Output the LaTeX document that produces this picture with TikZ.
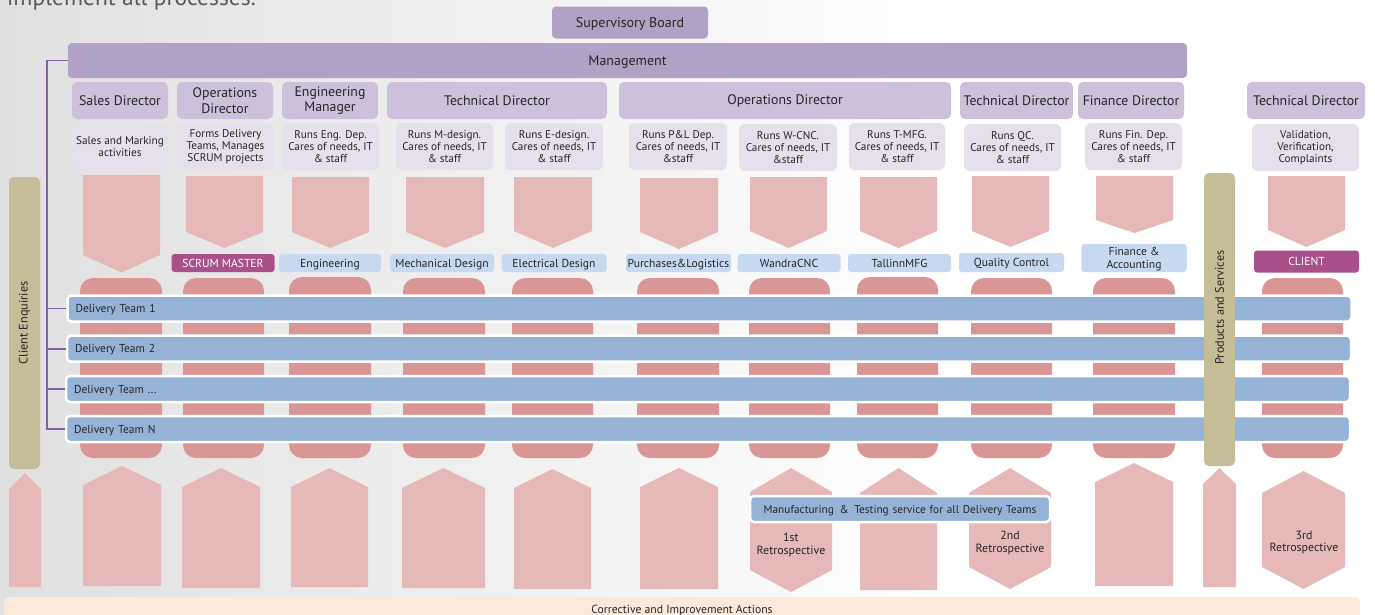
\documentclass[tikz,border=0pt]{standalone}
\usepackage{fontspec}
\setmainfont{PT Sans}
\usepackage{tikz}
\usetikzlibrary{positioning,calc}
\usepackage{xcolor}

\definecolor{bossc}{HTML}{B2A1C7}
\definecolor{headc}{HTML}{CCC0DA}
\definecolor{taskc}{HTML}{E5E0EC}
\definecolor{deptc}{HTML}{C6D9F1}
\definecolor{rolec}{HTML}{A94F8A}
\definecolor{teamc}{HTML}{95B3D7}
\definecolor{flankc}{HTML}{C4BD97}
\definecolor{pentc}{HTML}{E6B8B7}
\definecolor{bandc}{HTML}{DA9694}
\definecolor{actc}{HTML}{FDE9D9}
\definecolor{connc}{HTML}{8064A2}
\definecolor{inkc}{HTML}{262626}
\definecolor{bgleft}{HTML}{E0E0E0}
\pgfdeclarehorizontalshading{bgfade}{100bp}{color(0bp)=(bgleft); color(25bp)=(bgleft); color(60bp)=(white); color(100bp)=(white)}

\begin{document}
\begin{tikzpicture}[x=1pt, y=-1pt,
      boss/.style={fill=bossc, rounded corners=4pt, inner sep=0pt, text=inkc, text depth=0pt,
                   font=\fontsize{14}{16}\selectfont},
      head/.style={fill=headc, rounded corners=5pt, inner sep=0pt, align=center,
                   minimum height=37pt, text=inkc, font=\fontsize{13.8}{15.5}\selectfont},
      task/.style={fill=taskc, rounded corners=6pt, inner sep=0pt, align=center,
                   minimum height=47pt, text=inkc, font=\fontsize{11.2}{12}\selectfont},
      dept/.style={fill=deptc, rounded corners=3pt, inner sep=0pt, align=center, text depth=0pt,
                   minimum height=18pt, text=inkc, font=\fontsize{11.6}{12.4}\selectfont},
      role/.style={dept, fill=rolec, text=white},
      team/.style={fill=teamc, draw=white, line width=2.5pt, rounded corners=4pt,
                   inner xsep=8pt, inner ysep=0pt, minimum height=26pt, text width=1268pt,
                   text depth=0pt, align=left, text=inkc, font=\fontsize{11.5}{13}\selectfont},
      flank/.style={fill=flankc, rounded corners=5pt, rotate=90, inner sep=0pt,
                    minimum height=31pt, text=inkc, font=\fontsize{12.3}{14}\selectfont},
      act/.style={fill=actc, rounded corners=5pt, inner sep=0pt, text=inkc, text depth=0pt,
                  font=\fontsize{11.7}{13}\selectfont},
      retro/.style={align=center, text=inkc, font=\fontsize{11.9}{12.7}\selectfont},
      pent/.style={fill=pentc},
      band/.style={fill=bandc, rounded corners=13pt},
      conn/.style={draw=connc, line width=1.8pt},
    ]
    \useasboundingbox (0,0) rectangle (1375,614);
    \shade[shading=bgfade] (0,0) rectangle (1375,614);

    % leftover heading of the slide, cut by the page edge
    \node[anchor=base west, inner sep=0pt, text=black!65, font=\fontsize{23.5}{27}\selectfont]
      (intro) at (7,5) {implement all processes.};

    % board and management
    \node[boss, minimum width=156pt, minimum height=32pt] (board) at (630,22.5) {Supervisory Board};
    \node[boss, minimum width=1119pt, minimum height=35pt] (mgmt) at (627.5,60.5) {Management};

    % directors
    \node[head, minimum width=96pt] (sales) at (120,100.5) {Sales Director};
    \node[head, minimum width=96pt] (opsa) at (225,100.5) {Operations\\Director};
    \node[head, minimum width=96pt] (engm) at (330,100.5) {Engineering\\Manager};
    \node[head, minimum width=220pt] (techa) at (497,100.5) {Technical Director};
    \node[head, minimum width=332pt] (opsb) at (785,100.5) {Operations Director};
    \node[head, minimum width=113pt] (techb) at (1016.5,100.5) {Technical Director};
    \node[head, minimum width=106pt] (fin) at (1131,100.5) {Finance Director};
    \node[head, minimum width=118pt] (techc) at (1306,100.5) {Technical Director};

    % duties
    \node[task, minimum width=96pt] (tsales) at (120,146.5) {Sales and Marking\\activities};
    \node[task, minimum width=97pt] (tops) at (225.5,146.5) {Forms Delivery\\Teams, Manages\\SCRUM projects};
    \node[task, minimum width=97pt] (teng) at (330.5,146.5) {Runs Eng. Dep.\\Cares of needs, IT\\\& staff};
    \node[task, minimum width=97pt] (tmd) at (444.5,146.5) {Runs M-design.\\Cares of needs, IT\\\& staff};
    \node[task, minimum width=98pt] (ted) at (554,146.5) {Runs E-design.\\Cares of needs, IT\\\& staff};
    \node[task, minimum width=98pt] (tpl) at (678,146.5) {Runs P\&L Dep.\\Cares of needs, IT\\\&staff};
    \node[task, minimum width=98pt] (twc) at (788,147.5) {Runs W-CNC.\\Cares of needs, IT\\\&staff};
    \node[task, minimum width=96pt] (ttm) at (897,146.5) {Runs T-MFG.\\Cares of needs, IT\\\& staff};
    \node[task, minimum width=97pt] (tqc) at (1012.5,147.5) {Runs QC.\\Cares of needs, IT\\\& staff};
    \node[task, minimum width=97pt] (tfin) at (1133.5,146.5) {Runs Fin. Dep.\\Cares of needs, IT\\\& staff};
    \node[task, minimum width=107pt] (tval) at (1305.5,147.5) {Validation,\\Verification,\\Complaints};

    % downward arrows under the duties
    \fill[pent] (83,175) -- (160,175) -- (160,255) -- (121.5,272.5) -- (83,255) -- cycle;
    \fill[pent] (186,176) -- (263,176) -- (263,232) -- (224.5,248) -- (186,232) -- cycle;
    \fill[pent] (292,177) -- (369,177) -- (369,232) -- (330.5,248) -- (292,232) -- cycle;
    \fill[pent] (406,177) -- (484,177) -- (484,232) -- (445,248) -- (406,232) -- cycle;
    \fill[pent] (514,177) -- (592,177) -- (592,231) -- (553,248) -- (514,231) -- cycle;
    \fill[pent] (640,178) -- (718,178) -- (718,232) -- (679,249) -- (640,232) -- cycle;
    \fill[pent] (750,177) -- (827,177) -- (827,231) -- (788.5,248) -- (750,231) -- cycle;
    \fill[pent] (860,177) -- (937,177) -- (937,231) -- (898.5,248) -- (860,231) -- cycle;
    \fill[pent] (972,176) -- (1049,176) -- (1049,231) -- (1010.5,247) -- (972,231) -- cycle;
    \fill[pent] (1096,176) -- (1173,176) -- (1173,220) -- (1134.5,233) -- (1096,220) -- cycle;
    \fill[pent] (1268,176) -- (1345,176) -- (1345,230) -- (1306.5,247) -- (1268,230) -- cycle;

    % departments
    \node[role, minimum width=103pt] (scrum) at (223,263) {SCRUM MASTER};
    \node[dept, minimum width=102pt] (deng) at (330,263) {Engineering};
    \node[dept, minimum width=104pt] (dmd) at (442,263) {Mechanical Design};
    \node[dept, minimum width=105pt] (ded) at (554,263) {Electrical Design};
    \node[dept, minimum width=105pt] (dpl) at (678.5,263) {Purchases\&Logistics};
    \node[dept, minimum width=103pt] (dwc) at (789,263) {WandraCNC};
    \node[dept, minimum width=103pt] (dtm) at (899.5,263) {TallinnMFG};
    \node[dept, minimum width=105pt, minimum height=19pt] (dqc) at (1011.5,262.5) {Quality Control};
    \node[dept, minimum width=105.5pt, minimum height=28pt] (dfin) at (1134,258) {Finance \&\\Accounting};
    \node[role, minimum width=105pt, minimum height=22pt] (client) at (1306.5,261.5) {CLIENT};

    % columns behind the delivery teams
    \fill[band] (80,278) rectangle (162,458);
    \fill[band] (183,278) rectangle (264,458);
    \fill[band] (289,277) rectangle (371,458);
    \fill[band] (403,278) rectangle (485,458);
    \fill[band] (512,278) rectangle (593,458);
    \fill[band] (637,278) rectangle (719,458);
    \fill[band] (749,278) rectangle (830,458);
    \fill[band] (857,277) rectangle (938,458);
    \fill[band] (971,278) rectangle (1052,458);
    \fill[band] (1093,278) rectangle (1175,458);
    \fill[band] (1262,278) rectangle (1343,458);

    % delivery teams
    \node[team] (dt1) at (709.5,308.5) {Delivery Team 1};
    \node[team] (dt2) at (709,348.7) {Delivery Team 2};
    \node[team] (dt3) at (708,389) {Delivery Team ...};
    \node[team] (dtN) at (708,429) {Delivery Team N};

    % management reaches every delivery team
    \coordinate (spine) at (47,60.5);
    \draw[conn] (mgmt.west) -- (spine) |- (dtN.west);
    \draw[conn] (spine |- dt1.west) -- (dt1.west);
    \draw[conn] (spine |- dt2.west) -- (dt2.west);
    \draw[conn] (spine |- dt3.west) -- (dt3.west);

    % side bars
    \node[flank, minimum width=292pt] (enq) at (24.5,323) {Client Enquiries};
    \node[flank, minimum width=293pt] (prod) at (1219.5,319.5) {\hspace*{24pt}Products and Services};

    % upward arrows and retrospectives
    \fill[pent] (9,587) -- (9,489) -- (25,473) -- (41,489) -- (41,587) -- cycle;
    \fill[pent] (83,586) -- (83,485) -- (122,466) -- (161,485) -- (161,586) -- cycle;
    \fill[pent] (182,588) -- (182,487) -- (221,468) -- (260,487) -- (260,588) -- cycle;
    \fill[pent] (291,587) -- (291,487) -- (329.5,468) -- (368,487) -- (368,587) -- cycle;
    \fill[pent] (402,588) -- (402,488) -- (443.5,468) -- (485,488) -- (485,588) -- cycle;
    \fill[pent] (514,589) -- (514,488) -- (552.5,469) -- (591,488) -- (591,589) -- cycle;
    \fill[pent] (640,589) -- (640,487) -- (679,468) -- (718,487) -- (718,589) -- cycle;
    \fill[pent] (750,492) -- (791,468) -- (832,492) -- (832,570) -- (791,592) -- (750,570) -- cycle;
    \fill[pent] (860,590) -- (860,493) -- (898.5,468) -- (937,493) -- (937,590) -- cycle;
    \fill[pent] (969,493) -- (1010,468) -- (1051,493) -- (1051,567) -- (1010,589) -- (969,567) -- cycle;
    \fill[pent] (1095,586) -- (1095,482) -- (1134,463) -- (1173,482) -- (1173,586) -- cycle;
    \fill[pent] (1203,587) -- (1203,484) -- (1219.5,468) -- (1236,484) -- (1236,587) -- cycle;
    \fill[pent] (1262,493) -- (1303.5,471) -- (1345,493) -- (1345,567) -- (1303.5,589) -- (1262,567) -- cycle;

    \node[retro] (retro1) at (791,545) {1st\\Retrospective};
    \node[retro] (retro2) at (1010,543) {2nd\\Retrospective};
    \node[retro] (retro3) at (1304,542.5) {3rd\\Retrospective};

    % shared service for all teams
    \node[team, text width=284pt, align=center, font=\fontsize{11.3}{13}\selectfont]
      (mfg) at (900,509) {Manufacturing \,\&\, Testing service for all Delivery Teams};

    % bottom band
    \node[act, minimum width=1356pt, minimum height=24pt] (fix) at (682,609) {Corrective and Improvement Actions};
  \end{tikzpicture}
\end{document}
